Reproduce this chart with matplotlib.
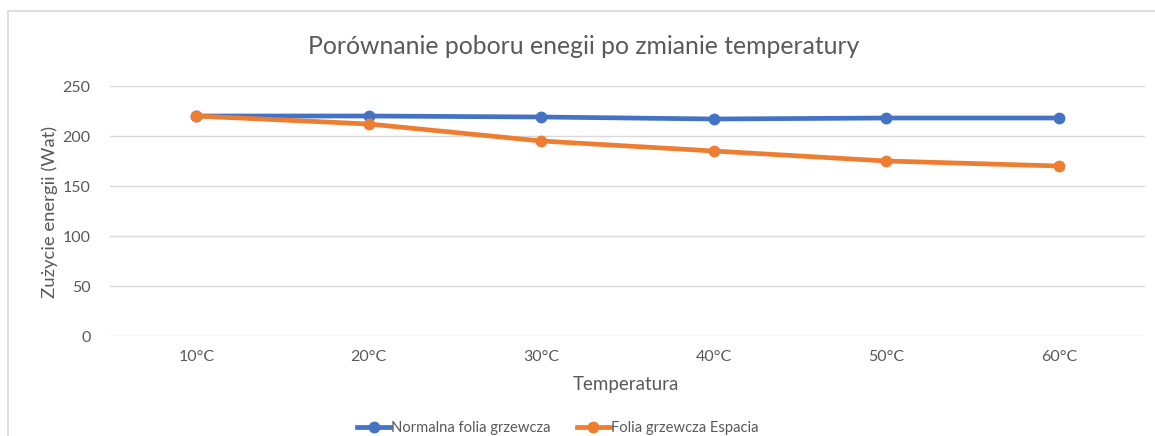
import matplotlib
matplotlib.use("Agg")
import matplotlib.pyplot as plt
from matplotlib.patches import Rectangle
from matplotlib.lines import Line2D

categories = ["10°C", "20°C", "30°C", "40°C", "50°C", "60°C"]
normal = [220, 220, 219, 217, 218, 218]
espacia = [220, 212, 195, 185, 175, 170]
series_names = ["Normalna folia grzewcza", "Folia grzewcza Espacia"]
title = "Porównanie poboru enegii po zmianie temperatury"
xlabel = "Temperatura"
ylabel = "Zużycie energii (Wat)"
yticks = [0, 50, 100, 150, 200, 250]

plt.rcParams['font.family'] = ['Lato', 'DejaVu Sans']
W, H = 1155, 436
fig = plt.figure(figsize=(W / 100, H / 100), dpi=100)
txt = "#595959"

# chart border
fig.patches.append(Rectangle((8 / W, -0.1), 1.2, 1 - 11 / H + 0.1, transform=fig.transFigure,
                             fill=False, edgecolor="#D9D9D9", linewidth=1.2))

ax = fig.add_axes([110 / W, 1 - 336 / H, (1145 - 110) / W, (336 - 86) / H])
x = list(range(len(categories)))
blue = "#4472C4"
orange = "#ED7D31"
ax.plot(x, normal, color=blue, lw=3.4, marker="o", ms=7.5, zorder=3, solid_capstyle="round")
ax.plot(x, espacia, color=orange, lw=3.4, marker="o", ms=7.5, zorder=4, solid_capstyle="round")
ax.set_xlim(-0.5, len(categories) - 0.5)
ax.set_ylim(0, 250)
ax.set_yticks(yticks)
ax.set_xticks(x)
ax.set_xticklabels(categories)
ax.tick_params(axis="both", length=0, labelsize=11.5, colors=txt)
ax.tick_params(axis="y", pad=14)
ax.tick_params(axis="x", pad=10)
ax.grid(axis="y", color="#D9D9D9", lw=1)
ax.set_axisbelow(True)
for s in ax.spines.values():
    s.set_visible(False)

fig.text(584 / W, 1 - 47 / H, title, ha="center", va="center", fontsize=17.8, color=txt)
fig.text(626 / W, 1 - 384 / H, xlabel, ha="center", va="center", fontsize=13.5, color=txt)
fig.text(50 / W, 1 - 212 / H, ylabel, ha="center", va="center", rotation=90, fontsize=13.3, color=txt)

handles = [Line2D([0], [0], color=blue, lw=3.4, marker="o", ms=7.5),
           Line2D([0], [0], color=orange, lw=3.4, marker="o", ms=7.5)]
fig.legend(handles, series_names, loc="center", bbox_to_anchor=(558 / W, 1 - 428 / H),
           ncol=2, frameon=False, fontsize=10.6, labelcolor=txt, handlelength=2.2,
           handletextpad=0.1, columnspacing=1.8)

fig.savefig("out.png", dpi=100, facecolor="white")
